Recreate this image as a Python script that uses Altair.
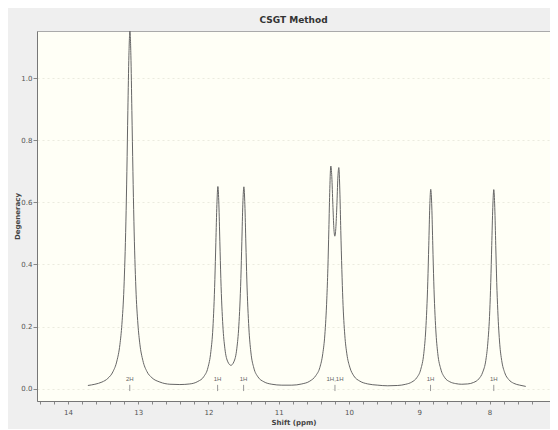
import altair as alt
import pandas as pd

# Spectrum curve (chemical shift in ppm, degeneracy)
shift_ppm = [
    13.716, 13.616, 13.516, 13.431, 13.360, 13.303, 13.260, 13.232, 13.203, 13.175,
    13.161, 13.147, 13.132, 13.118, 13.104, 13.090, 13.075, 13.061, 13.033, 13.004,
    12.976, 12.933, 12.876, 12.805, 12.691, 12.549, 12.407, 12.265, 12.151, 12.065,
    12.008, 11.966, 11.937, 11.909, 11.895, 11.880, 11.866, 11.852, 11.838, 11.824,
    11.795, 11.767, 11.724, 11.681, 11.639, 11.596, 11.568, 11.539, 11.525, 11.511,
    11.496, 11.482, 11.468, 11.454, 11.425, 11.397, 11.354, 11.297, 11.212, 11.098,
    10.956, 10.814, 10.671, 10.558, 10.472, 10.415, 10.373, 10.344, 10.316, 10.301,
    10.287, 10.273, 10.259, 10.245, 10.230, 10.216, 10.202, 10.188, 10.173, 10.159,
    10.145, 10.131, 10.117, 10.102, 10.088, 10.060, 10.031, 9.989, 9.932, 9.846,
    9.733, 9.590, 9.448, 9.306, 9.192, 9.107, 9.036, 8.979, 8.936, 8.908,
    8.879, 8.865, 8.851, 8.837, 8.822, 8.808, 8.794, 8.765, 8.737, 8.694,
    8.637, 8.566, 8.481, 8.395, 8.310, 8.225, 8.154, 8.097, 8.054, 8.026,
    7.997, 7.983, 7.969, 7.954, 7.940, 7.926, 7.912, 7.898, 7.883, 7.855,
    7.827, 7.784, 7.727, 7.656, 7.570, 7.485,
]
degeneracy = [
    0.010, 0.014, 0.021, 0.033, 0.054, 0.089, 0.142, 0.207, 0.323, 0.537,
    0.700, 0.896, 1.074, 1.152, 1.074, 0.896, 0.700, 0.539, 0.324, 0.208,
    0.143, 0.090, 0.055, 0.035, 0.021, 0.014, 0.013, 0.015, 0.023, 0.039,
    0.067, 0.119, 0.195, 0.351, 0.470, 0.593, 0.651, 0.594, 0.473, 0.355,
    0.202, 0.130, 0.086, 0.075, 0.086, 0.130, 0.202, 0.355, 0.473, 0.594,
    0.650, 0.592, 0.469, 0.350, 0.195, 0.118, 0.066, 0.038, 0.022, 0.014,
    0.011, 0.011, 0.015, 0.024, 0.042, 0.068, 0.113, 0.173, 0.289, 0.386,
    0.512, 0.645, 0.717, 0.683, 0.593, 0.518, 0.491, 0.516, 0.589, 0.678,
    0.712, 0.640, 0.509, 0.383, 0.287, 0.172, 0.112, 0.069, 0.041, 0.024,
    0.015, 0.011, 0.009, 0.010, 0.014, 0.021, 0.035, 0.062, 0.113, 0.189,
    0.344, 0.462, 0.585, 0.642, 0.585, 0.462, 0.344, 0.189, 0.113, 0.063,
    0.035, 0.022, 0.016, 0.014, 0.015, 0.020, 0.031, 0.053, 0.090, 0.144,
    0.251, 0.342, 0.461, 0.584, 0.641, 0.584, 0.461, 0.342, 0.251, 0.143,
    0.090, 0.051, 0.029, 0.017, 0.011, 0.007,
]

# Peak annotations
peak_ppm = [13.12, 11.87, 11.50, 10.20, 8.84, 7.94]
peak_labels = ["2H", "1H", "1H", "1H,1H", "1H", "1H"]

# Axis ticks
x_ticks = [7.4, 7.6, 7.8, 8.0, 8.2, 8.4, 8.6, 8.8, 9.0, 9.2, 9.4, 9.6, 9.8, 10.0,
           10.2, 10.4, 10.6, 10.8, 11.0, 11.2, 11.4, 11.6, 11.8, 12.0, 12.2, 12.4,
           12.6, 12.8, 13.0, 13.2, 13.4, 13.6, 13.8, 14.0, 14.2, 14.4]
y_ticks = [0, 0.2, 0.4, 0.6, 0.8, 1.0]

curve = pd.DataFrame({"ppm": shift_ppm, "deg": degeneracy})
peaks = pd.DataFrame({"ppm": peak_ppm, "label": peak_labels})

x_scale = alt.Scale(domain=[14.44, 7.14], nice=False, zero=False)
y_scale = alt.Scale(domain=[-0.04, 1.152], nice=False, zero=False)

x_axis = alt.Axis(
    title="Shift (ppm)", values=x_ticks, tickCount=200,
    labelExpr="abs(datum.value - round(datum.value)) < 0.01 ? format(datum.value, 'd') : ''",
    labelOverlap=False, labelBound=False, labelFlush=False,
    grid=False, tickSize=3, labelFontSize=7, labelColor="#555", labelPadding=4,
    titleFontSize=7, titleColor="#444", titleFontWeight="bold", titlePadding=3,
    domainColor="#777", tickColor="#888",
)
y_axis = alt.Axis(
    title="Degeneracy", values=y_ticks, format=".1f", tickCount=50,
    labelOverlap=False, labelFlush=False,
    grid=True, gridColor="#ebebdf", gridDash=[2, 3],
    tickSize=4, labelFontSize=7, labelColor="#555", labelPadding=1,
    titleFontSize=7, titleColor="#444", titleFontWeight="bold",
    titleX=-20, titleY=185, titleAngle=270, titleAlign="center",
    titleBaseline="middle",
    domainColor="#777", tickColor="#888",
)

line = alt.Chart(curve).mark_line(
    color="#666666", strokeWidth=1, interpolate="monotone", clip=True
).encode(
    x=alt.X("ppm:Q", scale=x_scale, axis=x_axis),
    y=alt.Y("deg:Q", scale=y_scale, axis=y_axis),
)

labels = alt.Chart(peaks).mark_text(
    fontSize=6, color="#666", baseline="bottom"
).encode(
    x=alt.X("ppm:Q", scale=x_scale),
    y=alt.datum(0.02),
    text="label:N",
)

ticks = alt.Chart(peaks).mark_rule(color="#999", strokeWidth=1).encode(
    x=alt.X("ppm:Q", scale=x_scale),
    y=alt.datum(0.012),
    y2=alt.datum(-0.008),
)

chart = alt.layer(line, labels, ticks).properties(
    width=513, height=370,
    title=alt.TitleParams("CSGT Method", fontSize=9, fontWeight="bold",
                          color="#333", anchor="middle", offset=6),
    autosize=alt.AutoSizeParams(type="none"),
    padding={"left": 29, "top": 23, "right": 0, "bottom": 28},
    background="#efefef",
).configure_view(fill="#fffff6", stroke="#aaa", strokeWidth=1).configure_axis(
    labelFont="DejaVu Sans", titleFont="DejaVu Sans"
).configure_title(font="DejaVu Sans")

chart.save("out.html", embed_options={"renderer": "svg", "actions": False})
